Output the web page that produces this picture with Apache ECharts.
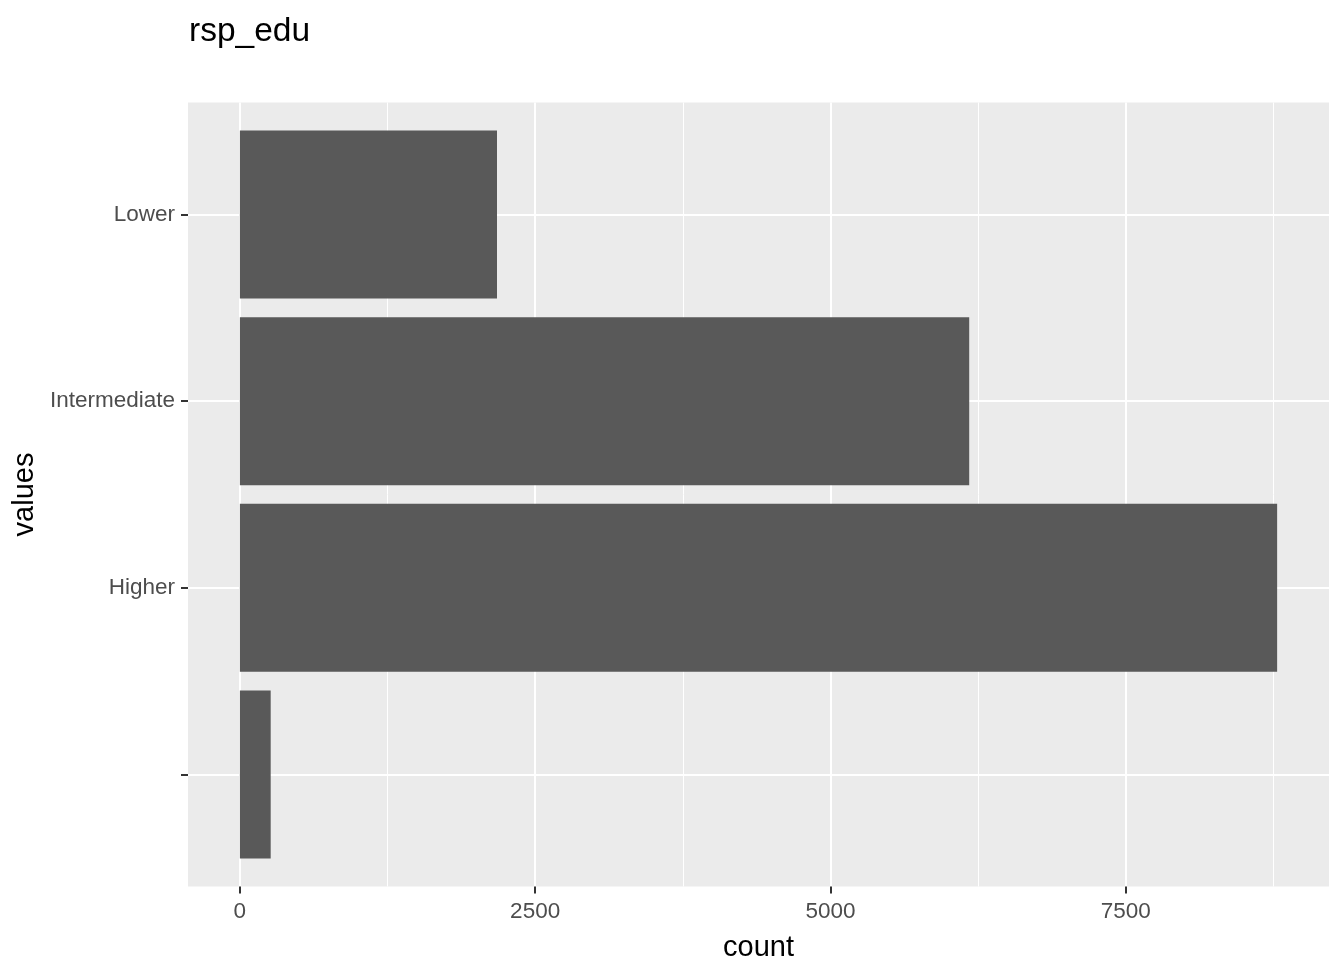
<!DOCTYPE html>
<html>
<head>
<meta charset="utf-8">
<script src="https://cdn.jsdelivr.net/npm/echarts@6/dist/echarts.min.js"></script>
<style>
html,body{margin:0;padding:0;background:#fff;}
#chart{width:1344px;height:974px;}
</style>
</head>
<body>
<div id="chart"></div>
<script>
// ---- data ----
const categories = ['Lower', 'Intermediate', 'Higher', ''];
const counts = [2177, 6175, 8782, 261];
const xTicks = [0, 2500, 5000, 7500];
const xMinorTicks = [1250, 3750, 6250, 8750];
const yTicks = [0, 1, 2, 3];

const maxCount = Math.max.apply(null, counts);
const xMin = -0.05 * maxCount, xMax = 1.05 * maxCount;
const font = 'Liberation Sans, Arial, sans-serif';

const chart = echarts.init(document.getElementById('chart'), null, {renderer: 'canvas'});
const seriesData = counts.map((v, i) => [v, i]);

chart.setOption({
  backgroundColor: '#ffffff',
  animation: false,
  title: {
    text: 'rsp_edu',
    left: 184,
    top: 10,
    textStyle: {fontFamily: font, fontSize: 33.5, fontWeight: 'normal', color: '#000000'}
  },
  grid: {
    left: 188, right: 15, top: 102.5, bottom: 87.5,
    show: true, backgroundColor: '#EBEBEB', borderWidth: 0,
    containLabel: false,
    outerBoundsMode: 'none'
  },
  xAxis: [{
    type: 'value', min: xMin, max: xMax, position: 'bottom',
    name: 'count', nameLocation: 'middle', nameGap: 47,
    nameTextStyle: {fontFamily: font, fontSize: 29, color: '#000000'},
    axisLine: {show: false, onZero: false},
    axisTick: {show: true, length: 7, lineStyle: {color: '#333333', width: 2}, customValues: xTicks},
    axisLabel: {show: true, margin: 14, color: '#4D4D4D', fontFamily: font, fontSize: 22.5,
      customValues: xTicks, formatter: v => String(v)},
    splitLine: {show: true, lineStyle: {color: '#ffffff', width: 2}}
  }, {
    type: 'value', min: xMin, max: xMax, position: 'top',
    axisLine: {show: false, onZero: false},
    axisTick: {show: false, customValues: xMinorTicks},
    axisLabel: {show: false, customValues: xMinorTicks},
    splitLine: {show: true, lineStyle: {color: '#ffffff', width: 1}}
  }],
  yAxis: {
    type: 'value', min: -0.6, max: 3.6, inverse: true,
    name: 'values', nameLocation: 'middle', nameGap: 146,
    nameTextStyle: {fontFamily: font, fontSize: 29, color: '#000000'},
    axisLine: {show: false, onZero: false},
    axisTick: {show: true, length: 7, lineStyle: {color: '#333333', width: 2}, customValues: yTicks},
    axisLabel: {
      show: true, margin: 13, color: '#4D4D4D', fontFamily: font, fontSize: 22.5,
      padding: [4, 0, 0, 0],
      customValues: yTicks,
      formatter: v => categories[Math.round(v)]
    },
    splitLine: {show: true, lineStyle: {color: '#ffffff', width: 2}}
  },
  series: [{
    type: 'custom',
    xAxisIndex: 0,
    yAxisIndex: 0,
    encode: {x: 0, y: 1},
    data: seriesData,
    renderItem: function (params, api) {
      const v = api.value(0), i = api.value(1);
      const p0 = api.coord([0, i]);
      const p1 = api.coord([v, i]);
      const h = api.size([0, 0.9])[1];
      return {
        type: 'rect',
        shape: {x: p0[0], y: p0[1] - h / 2, width: p1[0] - p0[0], height: h},
        style: {fill: '#595959'}
      };
    }
  }]
});
</script>
</body>
</html>
